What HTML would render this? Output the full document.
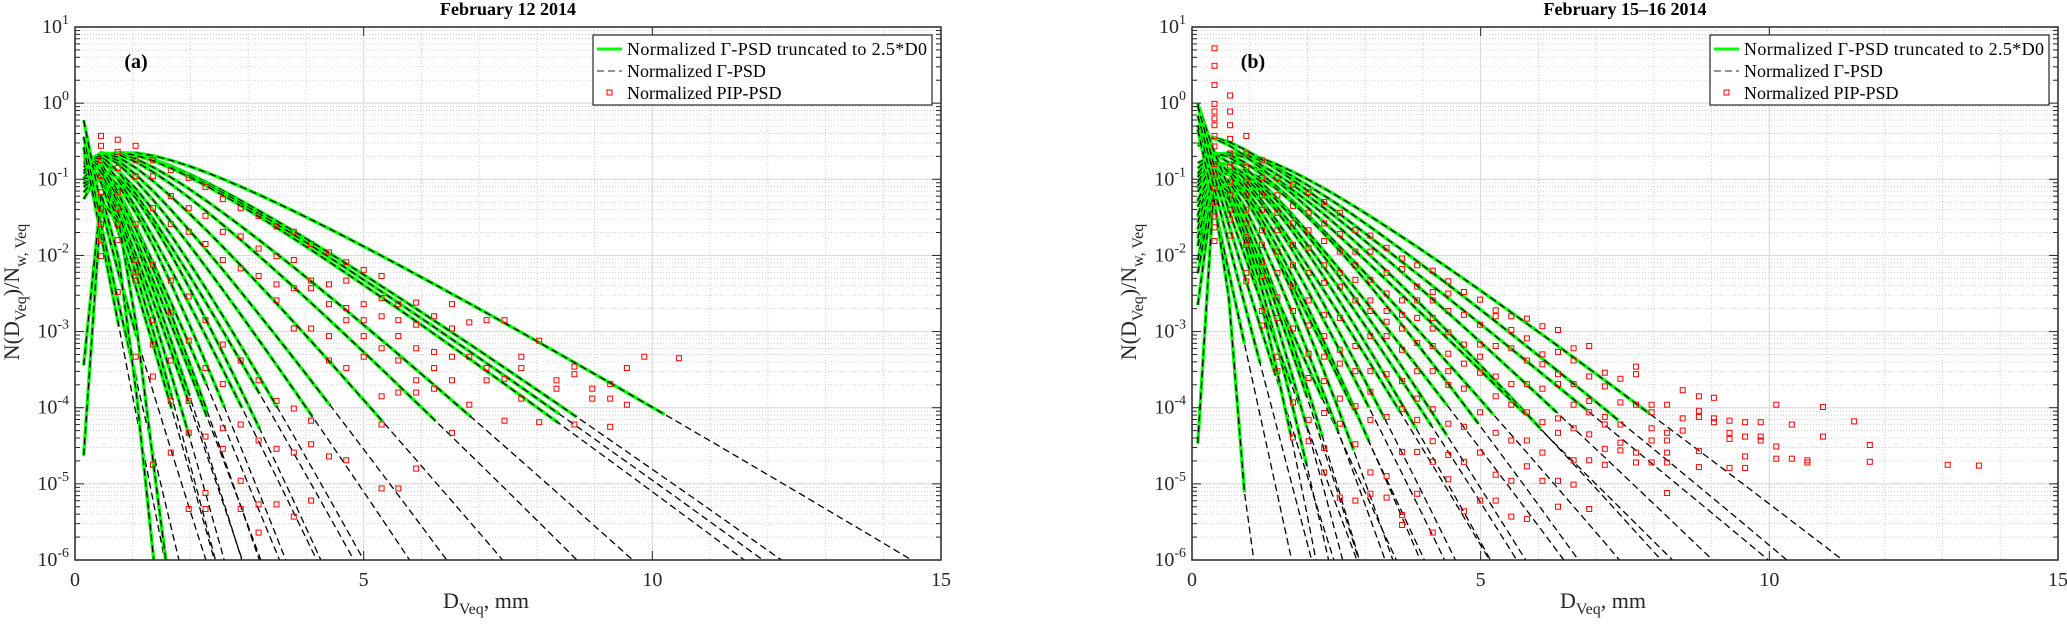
<!DOCTYPE html>
<html><head><meta charset="utf-8">
<style>
html,body{margin:0;padding:0;background:#fff;width:2067px;height:628px;overflow:hidden;}
svg{display:block;font-family:"Liberation Serif","DejaVu Serif",serif;}
</style></head>
<body>
<svg id="fig" width="2067" height="628" viewBox="0 0 2067 628" xmlns="http://www.w3.org/2000/svg">
<defs>
<clipPath id="clipA"><rect x="75" y="27" width="866" height="533"/></clipPath>
<clipPath id="clipB"><rect x="1192" y="27" width="866" height="533"/></clipPath>
</defs>
</svg>
<script>
// ---------- Data: panel (a) February 12 2014 ----------
const titleA = "February  12 2014";
const titleB = "February  15\u201316 2014";
const xTicks = [0, 5, 10, 15];
const yTickExp = [1, 0, -1, -2, -3, -4, -5, -6];

// gamma fit parameters (Dm in mm, mu)
const gammaDmA = [4.5,3.8,3.7,3.6,3.0,2.7,2.3,2.0,1.8,1.6,1.5,1.4,1.3,1.2,1.1,1.05,1.0,0.95,0.9,0.85,0.8,0.75,0.6,0.5,0.45,0.7,0.6];
const gammaMuA = [1,1,1,1,1,1,1,1,1,1.5,1,2,1,2,1,2,1,2,1,2,2,1,-1,-0.5,0,14,12];

// PIP normalized PSD: bin diameters and log10 values per bin
const pipDA = [0.45,0.74,1.05,1.35,1.66,1.97,2.26,2.56,2.87,3.18,3.49,3.79,4.09,4.40,4.70,5.00,5.31,5.60,5.91,6.22,6.53,6.83,7.13,7.44,7.73,8.04,8.34,8.65,8.96,9.27,9.56,9.86,10.46];
const pipLogA = [
 [-0.43,-0.56,-0.75,-0.96,-1.17,-1.38,-1.59,-1.80,-2.01],
 [-0.48,-0.64,-0.85,-1.17,-1.38,-1.59,-1.80,-2.48],
 [-0.56,-0.75,-0.96,-1.59,-2.06,-2.22,-2.33,-3.33],
 [-0.75,-0.96,-1.38,-2.12,-2.85,-3.17,-3.59,-4.75],
 [-0.88,-1.22,-1.59,-2.33,-2.75,-3.38,-3.91,-4.59],
 [-0.98,-1.38,-1.69,-2.54,-3.12,-3.91,-4.33,-5.33],
 [-1.10,-1.48,-1.85,-2.85,-3.48,-4.38,-5.12,-5.33],
 [-1.26,-1.69,-2.06,-3.17,-3.69,-4.27,-4.54],
 [-1.38,-1.75,-2.17,-3.38,-4.22,-4.96,-5.33],
 [-1.48,-1.91,-2.27,-3.64,-4.43,-5.27,-5.64],
 [-1.62,-2.01,-2.38,-2.59,-3.91,-4.54,-5.27],
 [-1.69,-2.06,-2.43,-2.96,-4.01,-4.59,-5.43],
 [-1.85,-2.33,-2.43,-2.96,-4.17,-4.48,-5.22],
 [-1.96,-2.38,-2.64,-3.06,-3.38,-4.64],
 [-2.09,-2.33,-2.69,-2.85,-3.48,-4.69],
 [-2.19,-2.64,-2.85,-3.06,-3.33],
 [-2.27,-2.56,-2.80,-3.22,-3.85,-4.22,-5.06],
 [-2.64,-2.85,-3.06,-3.38,-3.80,-5.06],
 [-2.62,-2.91,-3.22,-3.64,-3.80,-4.80],
 [-2.80,-3.27,-3.48,-3.75],
 [-2.64,-2.96,-3.33,-3.64,-4.33],
 [-2.88,-3.33,-3.96],
 [-2.85,-3.48,-3.64],
 [-2.85,-3.62,-4.17],
 [-3.33,-3.48,-3.88],
 [-3.12,-4.19],
 [-3.64,-3.75],
 [-3.46,-3.56,-4.22],
 [-3.75,-3.88],
 [-3.69,-3.88,-4.25],
 [-3.48,-3.96],
 [-3.33],
 [-3.35]
];

// ---------- Data: panel (b) February 15-16 2014 ----------
const gammaDmB = [3.5,3.2,3.0,2.8,2.6,2.5,2.3,2.2,2.0,1.9,1.8,1.7,1.6,1.5,1.4,1.3,1.25,1.2,1.1,1.0,0.95,0.9,0.85,0.8,1.0,0.8,0.7,0.6,0.5,0.45];
const gammaMuB = [1,1,0.5,1,1.5,0.5,1,2,1,2,1.5,2,1,2,1.5,2,1,3,2,3,2,3,4,5,-0.3,-0.4,-0.2,0,0,14];

const pipDB = [0.39,0.66,0.94,1.21,1.48,1.75,2.02,2.29,2.56,2.83,3.09,3.37,3.64,3.90,4.17,4.44,4.71,4.99,5.26,5.53,5.80,6.07,6.34,6.61,6.88,7.15,7.42,7.69,7.96,8.23,8.50,8.78,9.04,9.31,9.58,9.85,10.12,10.39,10.66,10.93,11.47,11.74,13.09,13.63];
const pipLogB = [
 [0.72,0.49,0.24,-0.01,-0.11,-0.20,-0.29,-0.43,-0.57,-0.80,-0.94,-1.12,-1.30,-1.49,-1.63,-1.81],
 [0.10,-0.11,-0.29,-0.47,-0.66,-0.84,-1.03,-1.21,-1.40,-1.53,-1.74],
 [-0.43,-0.66,-0.84,-1.03,-1.21,-1.40,-1.58,-1.76,-1.86,-2.23,-2.34],
 [-0.75,-0.98,-1.21,-1.40,-1.67,-1.86,-2.09,-2.27,-2.73,-2.92],
 [-0.98,-1.21,-1.44,-1.67,-1.95,-2.23,-2.55,-2.82,-3.33,-3.52],
 [-1.07,-1.35,-1.58,-1.86,-2.13,-2.41,-2.73,-2.96,-3.93,-4.39],
 [-1.17,-1.44,-1.67,-1.90,-2.23,-2.59,-2.92,-3.29,-3.61,-4.16,-4.44],
 [-1.30,-1.58,-1.81,-2.13,-2.36,-2.78,-3.06,-3.33,-3.65,-4.07,-4.53,-4.85],
 [-1.44,-1.72,-1.95,-2.23,-2.41,-2.82,-3.24,-3.42,-3.88,-4.21,-5.18],
 [-1.67,-1.95,-2.13,-2.32,-2.59,-3.19,-3.52,-3.98,-4.48,-5.22],
 [-1.74,-1.95,-2.32,-2.59,-2.73,-3.06,-3.52,-3.79,-4.16,-4.85,-5.13],
 [-1.90,-2.23,-2.50,-2.73,-2.87,-3.06,-3.56,-4.12,-4.90,-5.18],
 [-2.04,-2.18,-2.59,-2.78,-2.96,-3.24,-3.65,-4.02,-4.58,-5.41,-5.54],
 [-2.13,-2.41,-2.59,-2.82,-3.15,-3.52,-3.88,-4.16,-4.58,-5.13],
 [-2.20,-2.48,-2.59,-2.82,-2.96,-3.19,-3.52,-4.02,-4.44,-4.71,-5.64],
 [-2.34,-2.50,-2.73,-3.01,-3.29,-3.52,-3.70,-4.21,-4.62,-4.94],
 [-2.48,-2.78,-3.17,-3.42,-3.75,-4.25,-4.71,-5.36],
 [-2.58,-2.91,-3.17,-3.33,-3.54,-4.06,-4.59,-5.22],
 [-2.72,-2.80,-3.19,-3.59,-3.85,-4.33,-4.88,-5.22],
 [-2.80,-2.98,-3.22,-3.69,-3.96,-4.43,-4.96,-5.43],
 [-2.83,-3.09,-3.38,-3.69,-4.06,-4.43,-4.77,-5.46],
 [-2.93,-3.30,-3.43,-3.75,-4.19,-4.59,-4.96],
 [-2.98,-3.27,-3.56,-3.69,-4.14,-4.33,-4.96,-5.30],
 [-3.22,-3.38,-3.69,-3.96,-4.27,-4.69,-5.01],
 [-3.19,-3.59,-3.91,-4.06,-4.35,-4.69,-5.33],
 [-3.54,-3.72,-4.12,-4.22,-4.54,-4.75],
 [-3.62,-3.93,-4.22,-4.46,-4.56],
 [-3.46,-3.56,-3.96,-4.59,-4.72],
 [-3.96,-4.06,-4.27,-4.43,-4.72],
 [-3.96,-4.33,-4.43,-4.59,-4.72,-5.12],
 [-3.77,-4.14,-4.30],
 [-3.85,-4.04,-4.12,-4.57,-4.78],
 [-3.87,-4.14,-4.19],
 [-4.17,-4.33,-4.41,-4.79],
 [-4.19,-4.38,-4.64,-4.79],
 [-4.19,-4.38,-4.43],
 [-3.96,-4.51,-4.67],
 [-4.22,-4.67],
 [-4.69,-4.72],
 [-3.99,-4.38],
 [-4.18],
 [-4.49,-4.71],
 [-4.75],
 [-4.76]
];

// ---------- helpers ----------
const NS = "http://www.w3.org/2000/svg";
const svg = document.getElementById('fig');
function mk(tag, attrs, parent){
  const e = document.createElementNS(NS, tag);
  for (const k in attrs) e.setAttribute(k, attrs[k]);
  (parent || svg).appendChild(e);
  return e;
}
function lgamma(z){
  const g=7, c=[0.99999999999980993,676.5203681218851,-1259.1392167224028,771.32342877765313,-176.61502916214059,12.507343278686905,-0.13857109526572012,9.9843695780195716e-6,1.5056327351493116e-7];
  if (z<0.5) return Math.log(Math.PI/Math.abs(Math.sin(Math.PI*z))) - lgamma(1-z);
  z-=1; let x=c[0]; for(let i=1;i<g+2;i++) x+=c[i]/(z+i);
  const t=z+g+0.5;
  return 0.5*Math.log(2*Math.PI)+(z+0.5)*Math.log(t)-t+Math.log(x);
}
function nGamma(D, Dm, mu){
  const lf = Math.log(6/256) + (mu+4)*Math.log(4+mu) - lgamma(mu+4);
  const x = D/Dm;
  return Math.exp(lf + mu*Math.log(x) - (4+mu)*x);
}

function panel(cfg){
  const {x0, y0, w, h, clip, title, tag, dm, mu, dStart, dStep, pipD, pipLog, id} = cfg;
  const g = mk('g', {});
  
  
  const xs = d => x0 + d / 15 * w;
  const ys = lg => y0 + (1 - lg) / 7 * h;

  const grid = mk('g', {stroke:'#d0d0d0', 'stroke-width':1, 'stroke-dasharray':'1,2'}, g);
  
  
  for (let d=1; d<15; d++) if (d%5) mk('line',{x1:xs(d),x2:xs(d),y1:y0,y2:y0+h},grid);
  for (let e=-6; e<1; e++) for (let m=2; m<10; m++){
    const yy = ys(e+Math.log10(m)); mk('line',{x1:x0,x2:x0+w,y1:yy,y2:yy},grid);
  }
  const mg = mk('g', {stroke:'#dcdcdc', 'stroke-width':1.2}, g);
  
  
  [5,10].forEach(d=>mk('line',{x1:xs(d),x2:xs(d),y1:y0,y2:y0+h},mg));
  for (let e=-5; e<1; e++) mk('line',{x1:x0,x2:x0+w,y1:ys(e),y2:ys(e)},mg);

  const plot = mk('g', {'clip-path':'url(#'+clip+')'}, g);
  function curvePts(Dm, m, dEnd){
    const pts=[];
    for (let k=0; ; k++){
      const d = dStart + k*dStep;
      if (d > dEnd || d > 15) break;
      const lg = Math.max(-6.6, Math.min(1.2, Math.log10(nGamma(d,Dm,m))));
      pts.push(xs(d).toFixed(1)+','+ys(lg).toFixed(1));
      if (lg <= -6.6) break;
    }
    return pts.join(' ');
  }
  dm.forEach((Dm,i)=>{
    const p = mk('polyline',{points:curvePts(Dm,mu[i],15), fill:'none', stroke:'#000', 'stroke-width':1.3, 'stroke-dasharray':'7,4'}, plot);
    
    
  });
  dm.forEach((Dm,i)=>{
    const dEnd = 2.5*Dm*(3.67+mu[i])/(4+mu[i]);
    const pts = curvePts(Dm,mu[i],dEnd);
    const p = mk('polyline',{points:pts, fill:'none', stroke:'#00ff00', 'stroke-width':3.4}, plot);
    
    
    const q = mk('polyline',{points:pts, fill:'none', stroke:'#000', 'stroke-width':1.3, 'stroke-dasharray':'7,4'}, plot);
    
    
  });
  const pg = mk('g',{fill:'none', stroke:'#ff0000', 'stroke-width':1}, plot);
  
  
  pipD.forEach((d,i)=>pipLog[i].forEach(lg=>{
    const r = mk('rect',{x:(xs(d)-2.5).toFixed(1), y:(ys(lg)-2.5).toFixed(1), width:5, height:5}, pg);
    
    
  }));

  const box = mk('rect',{x:x0,y:y0,width:w,height:h,fill:'none',stroke:'#262626','stroke-width':1.5}, g);
  
  
  const tk = mk('g',{stroke:'#262626','stroke-width':1}, g);
  
  
  xTicks.forEach(d=>{ mk('line',{x1:xs(d),x2:xs(d),y1:y0+h,y2:y0+h-9},tk); mk('line',{x1:xs(d),x2:xs(d),y1:y0,y2:y0+9},tk); });
  for (let e=-6; e<1; e++) for (let m=1; m<10; m++){
    const yy=ys(e+Math.log10(m)); const L=m===1?9:5;
    mk('line',{x1:x0,x2:x0+L,y1:yy,y2:yy},tk); mk('line',{x1:x0+w,x2:x0+w-L,y1:yy,y2:yy},tk);
  }
  xTicks.forEach(d=>{
    const t = mk('text',{x:xs(d), y:y0+h+26, 'text-anchor':'middle', 'font-size':20, fill:'#262626'}, g);
    t.textContent = d;
    
    
  });
  yTickExp.forEach(e=>{
    const t = mk('text',{x:x0-6, y:ys(e)+6, 'text-anchor':'end', 'font-size':20, fill:'#262626'}, g);
    
    
    const a = mk('tspan',{},t); a.textContent='10';
    const b = mk('tspan',{dy:-9,'font-size':14},t); b.textContent=String(e);
  });
  const tt = mk('text',{x:x0+w/2, y:15, 'text-anchor':'middle','font-size':18,'font-weight':'bold',fill:'#000'}, g);
  tt.textContent = title;
  
  
  const pl = mk('text',{x:x0+61, y:68, 'text-anchor':'middle','font-size':20,'font-weight':'bold',fill:'#000'}, g);
  pl.textContent = tag;
  
  
  const xl = mk('text',{x:x0+w/2-65, y:608, 'font-size':22, fill:'#262626'}, g);
  
  
  mk('tspan',{},xl).textContent='D';
  mk('tspan',{dy:6,'font-size':16},xl).textContent='Veq';
  mk('tspan',{dy:-6},xl).textContent=', mm';
  const yl = mk('text',{x:0,y:0,'font-size':22,fill:'#262626','text-anchor':'middle',transform:'translate('+(x0-56)+',292) rotate(-90)'}, g);
  
  
  mk('tspan',{},yl).textContent='N(D';
  mk('tspan',{dy:7,'font-size':16},yl).textContent='Veq';
  mk('tspan',{dy:-7},yl).textContent=')/N';
  mk('tspan',{dy:7,'font-size':16},yl).textContent='w, Veq';
  const lx = x0 + w - 348, ly = 35;
  const lg = mk('g',{}, g);
  
  
  mk('rect',{x:lx,y:ly,width:339,height:70,fill:'#fff',stroke:'#262626','stroke-width':1.2},lg);
  mk('line',{x1:lx+4,x2:lx+29,y1:ly+14,y2:ly+14,stroke:'#00ff00','stroke-width':3},lg);
  mk('line',{x1:lx+4,x2:lx+29,y1:ly+36,y2:ly+36,stroke:'#555','stroke-width':1.2,'stroke-dasharray':'7,4'},lg);
  mk('rect',{x:lx+14,y:ly+55,width:5,height:5,fill:'none',stroke:'#ff0000','stroke-width':1},lg);
  const labels=['Normalized \u0393-PSD truncated to 2.5*D0','Normalized \u0393-PSD','Normalized PIP-PSD'];
  labels.forEach((s,i)=>{
    const t = mk('text',{x:lx+34,y:ly+20+i*22,'font-size':18,fill:'#000'},lg);
    if (i===0) t.setAttribute('textLength', 300);
    t.textContent = s;
    
    
  });
}

panel({x0:75, y0:27, w:866, h:533, clip:'clipA', title:titleA, tag:'(a)', dm:gammaDmA, mu:gammaMuA, dStart:0.15, dStep:0.305, pipD:pipDA, pipLog:pipLogA, id:'panel-a'});
panel({x0:1192, y0:27, w:866, h:533, clip:'clipB', title:titleB, tag:'(b)', dm:gammaDmB, mu:gammaMuB, dStart:0.1, dStep:0.27, pipD:pipDB, pipLog:pipLogB, id:'panel-b'});
</script>
</body></html>
